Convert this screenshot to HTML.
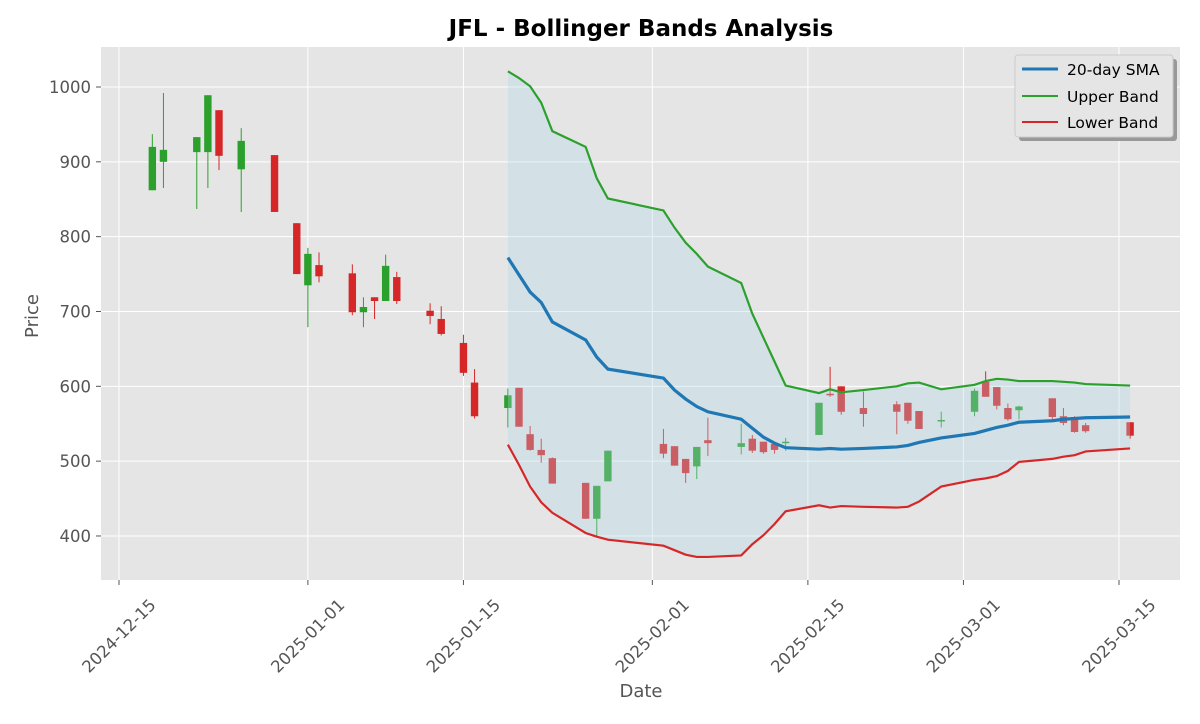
<!DOCTYPE html>
<html><head><meta charset="utf-8"><style>
body{margin:0;background:#fff;font-family:"DejaVu Sans",sans-serif}
svg text{font-family:"DejaVu Sans",sans-serif}
</style></head><body>
<svg id="chart" width="1200" height="720">
<rect x="0" y="0" width="1200" height="720" fill="#fff"/>
<text x="641" y="36" text-anchor="middle" font-size="23" font-weight="bold" fill="#000">JFL - Bollinger Bands Analysis</text>
<rect x="101" y="47" width="1079" height="533" fill="#e5e5e5"/>
<g id="grid"></g><g id="candles"></g><g id="bands"></g><g id="axes"></g>
<text x="641" y="697" text-anchor="middle" font-size="18" fill="#555">Date</text>
<text transform="translate(38,316) rotate(-90)" text-anchor="middle" font-size="18" fill="#555">Price</text>
<g>
<rect x="1019" y="59" width="158" height="82" rx="3" fill="#999"/>
<rect x="1015" y="55" width="158" height="82" rx="3" fill="#e5e5e5" stroke="#ccc"/>
<line x1="1022" y1="69" x2="1058" y2="69" stroke="#1f77b4" stroke-width="3"/>
<text x="1067" y="75" font-size="15.5" fill="#000">20-day SMA</text>
<line x1="1022" y1="96" x2="1058" y2="96" stroke="#2ca02c" stroke-width="2"/>
<text x="1067" y="102" font-size="15.5" fill="#000">Upper Band</text>
<line x1="1022" y1="122" x2="1058" y2="122" stroke="#d62728" stroke-width="2"/>
<text x="1067" y="128" font-size="15.5" fill="#000">Lower Band</text>
</g>
</svg>
<script>
// day offsets from 2024-12-15
const candleDays=[3,4,7,8,9,11,14,16,17,18,21,22,23,24,25,28,29,31,32,35,36,37,38,39,42,43,44,49,50,51,52,53,56,57,58,59,60,63,64,65,67,70,71,72,74,77,78,79,80,81,84,85,86,87,91];
const opens =[862,900,913,913,969,890,909,818,735,762,751,699,719,714,746,701,690,658,605,571,598,536,515,504,471,423,473,523,520,503,493,528,519,530,526,523,525,535,590,600,571,576,578,567,555,566,606,599,571,568,584,560,559,548,552];
const closes=[920,916,933,989,908,928,833,750,777,747,699,706,714,761,714,694,670,618,560,588,546,515,508,470,423,467,514,510,494,484,519,524,524,514,512,515,526,578,589,566,563,566,554,543,555,594,586,574,556,573,559,551,539,540,534];
const highs =[937,992,933,989,969,945,909,818,785,779,763,719,719,776,753,711,707,669,623,597,598,547,530,505,471,467,514,543,520,503,519,558,550,535,526,523,531,578,626,600,593,580,578,567,566,597,620,599,577,574,584,571,560,551,552];
const lows  =[862,865,837,865,889,833,833,750,679,739,695,679,690,714,710,683,668,614,557,545,546,514,498,470,423,400,473,504,494,471,476,507,509,511,510,510,514,535,586,562,546,536,550,543,545,560,586,569,554,556,554,548,538,538,530];
const bandDays=[35,36,37,38,39,42,43,44,49,50,51,52,53,56,57,58,59,60,63,64,65,67,70,71,72,74,77,78,79,80,81,84,85,86,87,91];
const sma  =[772,749,726,712,686,662,639,623,611,595,583,573,566,556,544,532,524,518,516,517,516,517,519,521,525,531,537,541,545,548,552,554,556,557,558,559];
const upper=[1021,1012,1001,979,941,920,878,851,835,812,792,777,760,738,697,665,633,601,591,596,592,595,600,604,605,596,602,607,610,609,607,607,606,605,603,601];
const lower=[522,495,466,445,431,404,399,395,387,381,375,372,372,374,389,401,416,433,441,438,440,439,438,439,446,466,475,477,480,487,499,503,506,508,513,517];
const yTicks=[400,500,600,700,800,900,1000];
const xTickDays=[0,17,31,48,62,76,90];
const xTickLabels=['2024-12-15','2025-01-01','2025-01-15','2025-02-01','2025-02-15','2025-03-01','2025-03-15'];

const NS='http://www.w3.org/2000/svg';
const X=d=>119+d*11.111;
const Y=p=>87+(1000-p)*0.7483;
function mk(tag,attrs,parent){const e=document.createElementNS(NS,tag);for(const k in attrs)e.setAttribute(k,attrs[k]);parent.appendChild(e);return e;}
const grid=document.getElementById('grid'),axes=document.getElementById('axes'),cg=document.getElementById('candles'),bg=document.getElementById('bands');
yTicks.forEach(v=>{
  const l=mk('line',{x1:101,x2:1180,y1:Y(v),y2:Y(v),stroke:'#fff','stroke-width':1},grid);
  
  
  mk('line',{x1:96,x2:101,y1:Y(v),y2:Y(v),stroke:'#555'},axes);
  const t=mk('text',{x:91,y:Y(v)+6,'text-anchor':'end','font-size':16.5,fill:'#555'},axes);
  t.textContent=v;
  
  
});
xTickDays.forEach((d,i)=>{
  const x=X(d);
  const l=mk('line',{x1:x,x2:x,y1:47,y2:580,stroke:'#fff','stroke-width':1},grid);
  
  
  mk('line',{x1:x,x2:x,y1:580,y2:585,stroke:'#555'},axes);
  const t=mk('text',{transform:`translate(${x},${636}) rotate(-45)`,'text-anchor':'middle','dominant-baseline':'central','font-size':16.5,fill:'#555'},axes);
  t.textContent=xTickLabels[i];
  
  
});
candleDays.forEach((d,i)=>{
  const up=closes[i]>=opens[i];const c=up?'#2ca02c':'#d62728';const x=X(d);
  const g=mk('g',{},cg);
  
  
  mk('line',{x1:x,x2:x,y1:Y(highs[i]),y2:Y(lows[i]),stroke:c,'stroke-width':1},g);
  const top=Y(Math.max(opens[i],closes[i])),bot=Y(Math.min(opens[i],closes[i]));
  mk('rect',{x:x-3.7,y:top,width:7.4,height:Math.max(bot-top,1.5),fill:c},g);
});
const pts=arr=>arr.map((v,i)=>X(bandDays[i])+','+Y(v)).join(' ');
const fillPts=pts(upper)+' '+lower.map((v,i)=>X(bandDays[i])+','+Y(v)).reverse().join(' ');
const f=mk('polygon',{points:fillPts,fill:'rgba(173,216,230,0.32)',stroke:'none'},bg);


const u=mk('polyline',{points:pts(upper),fill:'none',stroke:'#2ca02c','stroke-width':2.2},bg);


const lo=mk('polyline',{points:pts(lower),fill:'none',stroke:'#d62728','stroke-width':2.2},bg);


const s=mk('polyline',{points:pts(sma),fill:'none',stroke:'#1f77b4','stroke-width':3.2},bg);


</script>
</body></html>
